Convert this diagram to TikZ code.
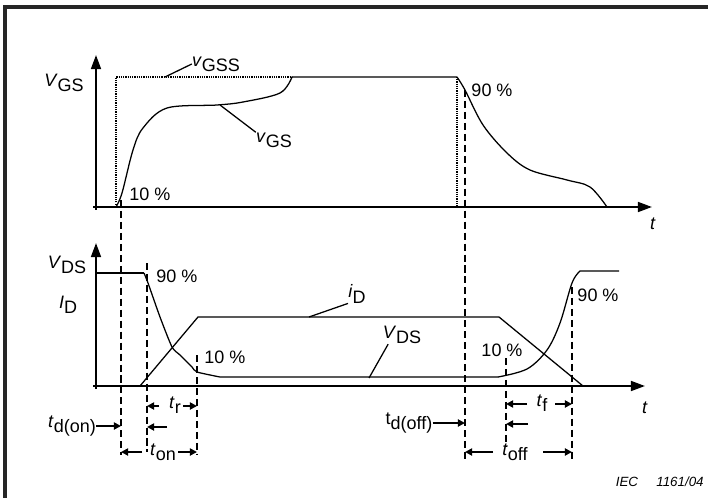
\documentclass[tikz,border=0pt]{standalone}
\usepackage{fontspec}
\setmainfont{Liberation Sans}
\usetikzlibrary{arrows.meta}
\newcommand\sig[2]{\textit{#1}\raisebox{-0.55ex}{#2}}
\begin{document}
\begin{tikzpicture}[x=0.025cm,y=-0.025cm,
  every node/.style={font=\fontsize{12.8}{15}\selectfont,inner sep=0pt},
  axis/.style={line width=1.5pt,-{Triangle[length=10pt,width=7pt]}},
  wave/.style={line width=0.9pt},
  hint/.style={line width=0.8pt,dash pattern=on 0.8pt off 0.8pt},
  guide/.style={line width=1.3pt,dash pattern=on 5pt off 2.8pt},
  tick/.style={line width=1.3pt,-{Triangle[length=5pt,width=5pt]}}]
\useasboundingbox (0,0) rectangle (708,498);
\draw[line width=2.8pt,black!85] (5,498) -- (5,7) -- (708,7);

\draw[axis] (96,210) -- (96,55);
\draw[axis] (93,207) -- (652,207);
\draw[axis] (96,389) -- (96,243);
\draw[axis] (93,386) -- (645,386);

\draw[hint] (116,207) -- (116,77) -- (292,77);
\draw[hint] (457,77) -- (457,207);
\draw[wave] plot[smooth,tension=0.55] coordinates {(116,207) (122,193) (133,150) (143,128) (167,108) (217,105) (243,102) (280,93) (292,77)} -- (457,77);
\draw[wave] plot[smooth,tension=0.55] coordinates {(457,77) (465,90) (483,125) (507,153) (530,170) (567,180) (590,187) (607,207)};

\draw[wave] (96,273) -- (144,273);
\draw[wave] plot[smooth,tension=0.4] coordinates {(144,273) (148,283) (160,317) (172,347) (180,355) (192,367) (197,372) (220,377)} -- (498,377);
\draw[wave] plot[smooth,tension=0.55] coordinates {(498,377) (527,369) (547,350) (560,323) (572,283) (580,271)} -- (619,271);
\draw[wave] (140,386) -- (198,317) -- (499,317) -- (583,386);

\foreach \n/\x/\a/\b in {1/121/200/455,2/147/263/452,3/197/355/455,4/465/90/460,5/506/358/447,6/572/287/460}
\draw[guide] (\x,\a) coordinate (g\n) -- (\x,\b);

\node (vgsax) at (64,83) {\sig{V}{GS}};
\node (vgss) at (216,64) {\sig{v}{GSS}};
\node (vgs) at (274,140) {\sig{v}{GS}};
\node (p10a) at (150,194) {10 \%};
\node (p90a) at (492,90) {90 \%};
\node (tup) at (653,224) {\textit{t}};
\node (vdsax) at (67,265) {\sig{V}{DS}};
\node (idax) at (68,305) {\sig{I}{D}};
\node (p90b) at (177,276) {90 \%};
\node (p10b) at (225,357) {10 \%};
\node (p10c) at (502,350) {10 \%};
\node (p90c) at (598,295) {90 \%};
\node (id) at (357,294) {\sig{i}{D}};
\node (vds) at (402,335) {\sig{V}{DS}};
\node (tlow) at (645,408) {\textit{t}};

\coordinate (ongss) at (165,77);
\coordinate (ongs) at (220,105);
\coordinate (onid) at (309,317);
\coordinate (onvds) at (369,378);
\draw[wave] (ongss) -- (vgss.west);
\draw[wave] (ongs) -- (vgs.north west);
\draw[wave] (onid) -- (id.south west);
\draw[wave] (onvds) -- ([xshift=4pt]vds.south west);

\node (tr) at (175,405) {\sig{t}{r}};
\node (tdon) at (72,426) {\sig{t}{d(on)}};
\node (ton) at (163,452) {\sig{t}{on}};
\node (tf) at (542,403) {\sig{t}{f}};
\node (tdoff) at (409,423) {t\raisebox{-0.55ex}{d(off)}};
\node (toff) at (515,452) {\sig{t}{off}};
\node (iec) at (627,482) {\fontsize{9.5}{11}\selectfont\textit{IEC}};
\node (fig) at (680,482) {\fontsize{9.5}{11}\selectfont\textit{1161/04}};

\draw[tick] (159,406) -- (g2 |- 0,406);
\draw[tick] (183,406) -- (g3 |- 0,406);
\draw[tick] (tdon.east) -- (g1 |- tdon.east);
\draw[tick] (167,427) -- (g2 |- 0,427);
\draw[tick] (142,452) -- (g1 |- 0,452);
\draw[tick] (178,452) -- (g3 |- 0,452);
\draw[tick] (527,404) -- (g5 |- 0,404);
\draw[tick] (555,404) -- (g6 |- 0,404);
\draw[tick] (tdoff.east) -- (g4 |- tdoff.east);
\draw[tick] (528,424) -- (g5 |- 0,424);
\draw[tick] (493,452) -- (g4 |- 0,452);
\draw[tick] (543,452) -- (g6 |- 0,452);
\end{tikzpicture}
\end{document}
